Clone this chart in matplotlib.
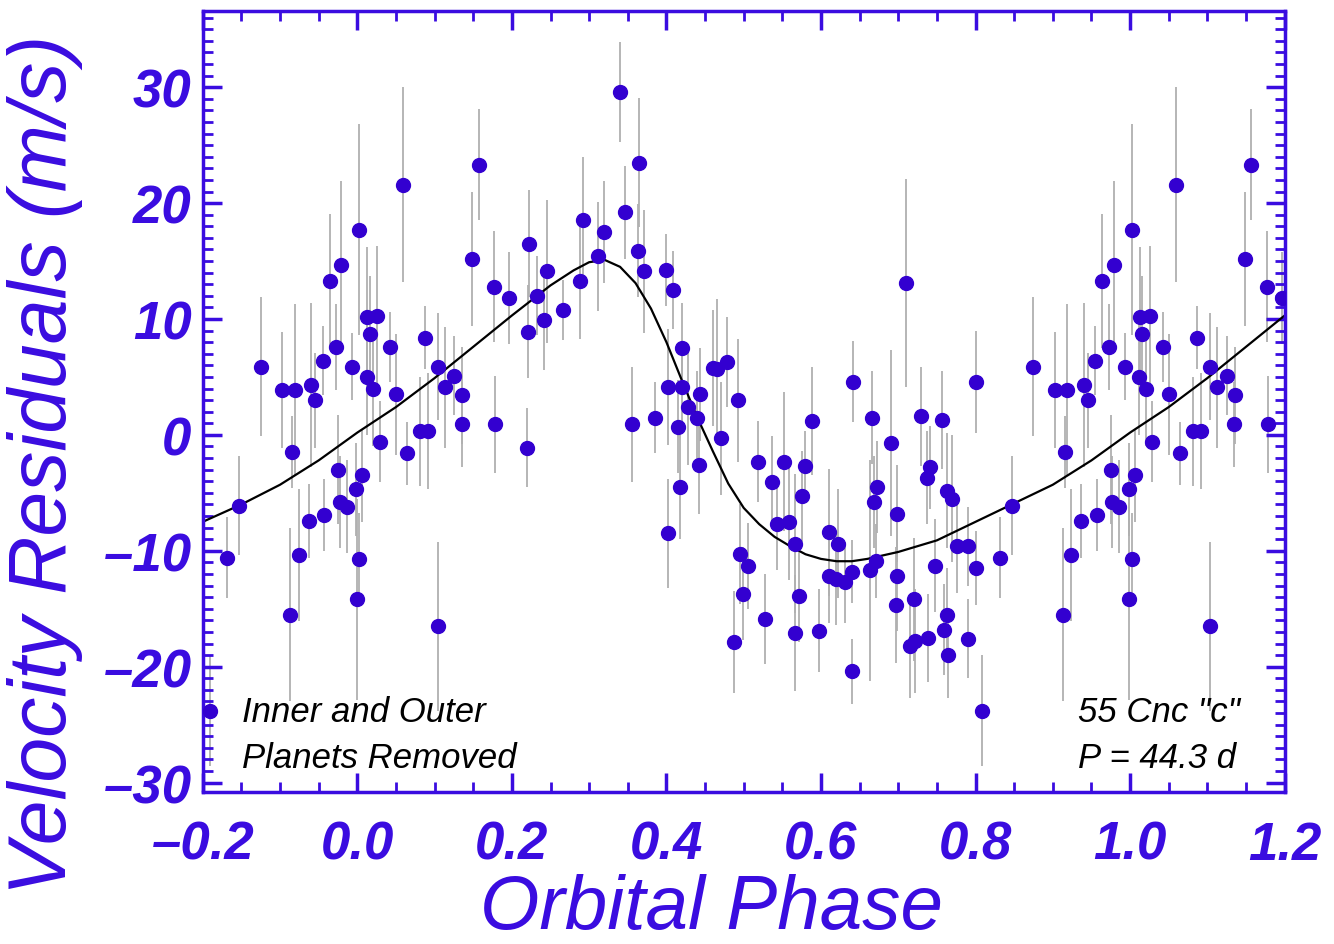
import numpy as np
import matplotlib.pyplot as plt
from matplotlib.ticker import MultipleLocator

# phase-folded residuals (phase in [-0.2, 0.8], shown again one cycle later)
phase = [-0.191, -0.168, -0.153, -0.125, -0.097, -0.081, -0.087, -0.084, -0.076, -0.060,
         -0.055, -0.063, -0.045, -0.043, -0.036, -0.027, -0.021, -0.025, -0.023, -0.014,
         -0.007, 0.002, -0.002, 0.002, -0.001, 0.006, 0.012, 0.013, 0.016, 0.020,
         0.026, 0.029, 0.042, 0.050, 0.059, 0.064, 0.081, 0.092, 0.087, 0.104,
         0.104, 0.113, 0.125, 0.136, 0.135, 0.149, 0.157, 0.177, 0.178, 0.196,
         0.219, 0.222, 0.221, 0.232, 0.242, 0.246, 0.266, 0.288, 0.292, 0.311,
         0.319, 0.340, 0.346, 0.356, 0.364, 0.363, 0.371, 0.385, 0.400, 0.408,
         0.402, 0.415, 0.420, 0.417, 0.402, 0.420, 0.428, 0.444, 0.440, 0.442,
         0.460, 0.466, 0.478, 0.470, 0.492, 0.488, 0.495, 0.499, 0.506, 0.519,
         0.528, 0.536, 0.543, 0.552, 0.558, 0.567, 0.566, 0.571, 0.575, 0.579,
         0.588, 0.597, 0.610, 0.622, 0.611, 0.620, 0.631, 0.640, 0.640, 0.642,
         0.666, 0.691, 0.672, 0.669, 0.671, 0.664, 0.699, 0.698, 0.697, 0.710,
         0.730, 0.756, 0.741, 0.737, 0.763, 0.769, 0.776, 0.790, 0.747, 0.801,
         0.720, 0.763, 0.759, 0.715, 0.722, 0.738, 0.765, 0.790, 0.800]
vel = [-23.8, -10.6, -6.1, 5.9, 3.9, 3.9, -15.5, -1.5, -10.4, 4.3,
       3.0, -7.4, 6.4, -6.9, 13.3, 7.6, 14.7, -3.0, -5.8, -6.2,
       5.9, 17.7, -4.7, -10.7, -14.2, -3.5, 5.0, 10.2, 8.7, 4.0,
       10.3, -0.6, 7.6, 3.5, 21.6, -1.6, 0.3, 0.3, 8.4, 5.9,
       -16.5, 4.1, 5.1, 3.4, 0.9, 15.2, 23.3, 12.8, 0.9, 11.8,
       -1.1, 16.5, 8.9, 12.0, 9.9, 14.1, 10.8, 13.3, 18.5, 15.4,
       17.5, 29.6, 19.2, 0.9, 23.5, 15.9, 14.1, 1.5, 14.2, 12.5,
       -8.5, 0.7, 7.5, -4.5, 4.1, 4.1, 2.4, 3.5, 1.5, -2.6,
       5.8, 5.7, 6.3, -0.3, 3.0, -17.9, -10.3, -13.7, -11.3, -2.3,
       -15.9, -4.1, -7.7, -2.3, -7.5, -9.4, -17.1, -13.9, -5.3, -2.7,
       1.2, -16.9, -8.4, -9.4, -12.2, -12.4, -12.7, -11.8, -20.4, 4.6,
       1.5, -0.7, -4.5, -5.8, -10.9, -11.7, -6.8, -12.2, -14.7, 13.1,
       1.6, 1.3, -2.8, -3.7, -4.8, -5.5, -9.6, -9.6, -11.3, -11.5,
       -14.2, -15.5, -16.8, -18.2, -17.8, -17.5, -19.0, -17.6, 4.6]
err = [4.8, 3.5, 4.3, 6.0, 5.0, 7.4, 7.5, 3.1, 5.7, 7.1,
       4.1, 3.2, 3.0, 3.1, 5.8, 3.7, 7.2, 4.7, 4.0, 4.0,
       2.9, 9.1, 4.0, 4.0, 8.7, 4.0, 5.0, 6.0, 5.0, 5.0,
       6.0, 3.5, 3.0, 5.2, 8.4, 2.7, 4.7, 5.0, 2.7, 4.6,
       7.3, 5.2, 3.4, 4.2, 3.7, 5.8, 4.8, 4.8, 4.2, 4.0,
       3.4, 4.6, 4.0, 3.4, 4.3, 6.2, 2.6, 5.0, 5.5, 4.7,
       4.4, 4.3, 4.0, 5.0, 5.6, 4.0, 5.3, 3.1, 3.1, 3.4,
       4.7, 4.0, 3.9, 4.5, 5.0, 4.0, 5.0, 4.0, 4.0, 4.2,
       5.0, 6.0, 3.9, 4.9, 5.3, 4.4, 4.3, 4.0, 3.7, 3.5,
       3.9, 4.0, 4.0, 6.0, 5.0, 6.0, 5.0, 4.0, 3.9, 3.0,
       4.7, 3.6, 5.5, 4.7, 4.0, 4.0, 3.5, 2.7, 2.8, 3.5,
       4.0, 8.0, 4.0, 4.0, 3.2, 9.5, 4.2, 4.7, 5.0, 9.0,
       4.3, 4.2, 3.6, 4.0, 5.0, 5.5, 4.0, 3.4, 4.0, 3.2,
       5.3, 4.0, 3.9, 4.5, 4.5, 3.8, 3.7, 3.4, 4.4]

# orbit fit curve
curve_phase = [-0.20, -0.15, -0.10, -0.05, 0.00, 0.05, 0.10, 0.15, 0.20, 0.25,
               0.28, 0.30, 0.32, 0.34, 0.36, 0.38, 0.40, 0.42, 0.44, 0.46,
               0.48, 0.50, 0.52, 0.54, 0.56, 0.58, 0.60, 0.62, 0.64, 0.66,
               0.70, 0.75, 0.80, 0.85, 0.90, 0.95, 1.00, 1.05, 1.10, 1.15, 1.20]
curve_vel = [-7.5, -6.0, -4.3, -2.2, 0.2, 2.4, 4.9, 7.6, 10.3, 12.9,
             14.2, 14.9, 15.1, 14.5, 13.1, 10.9, 8.0, 4.7, 1.5, -1.4,
             -4.2, -6.3, -7.7, -8.8, -9.6, -10.3, -10.7, -10.9, -10.9, -10.7,
             -10.1, -9.1, -7.5, -5.9, -4.3, -2.2, 0.2, 2.4, 4.9, 7.6, 10.3]

blue = '#3a0ce0'
dot = '#3300d0'
plt.rcParams['font.family'] = ['Liberation Sans', 'DejaVu Sans']

fig = plt.figure(figsize=(13.34, 9.45), dpi=100)
ax = fig.add_axes([0.152, 0.161, 0.811, 0.826])

ph = np.array(phase)
v = np.array(vel)
e = np.array(err)
wrap = ph + 1 <= 1.2
xs = np.concatenate([ph, ph[wrap] + 1])
ys = np.concatenate([v, v[wrap]])
es = np.concatenate([e, e[wrap]])

ax.errorbar(xs, ys, yerr=es, fmt='none', ecolor='#b0b0b0', elinewidth=1.3, zorder=1)
ax.plot(curve_phase, curve_vel, color='black', lw=1.6, zorder=2)
ax.plot(xs, ys, 'o', color=dot, ms=10, mec=dot, zorder=3)

ax.set_xlim(-0.2, 1.2)
ax.set_ylim(-30.8, 36.55)
ax.xaxis.set_major_locator(MultipleLocator(0.2))
ax.xaxis.set_minor_locator(MultipleLocator(0.05))
ax.yaxis.set_major_locator(MultipleLocator(10))
ax.yaxis.set_minor_locator(MultipleLocator(1))
ax.xaxis.set_major_formatter(lambda x, pos: f"{x:.1f}".replace('-', '\u2013'))
ax.yaxis.set_major_formatter(lambda y, pos: f"{y:.0f}".replace('-', '\u2013'))

ax.tick_params(which='both', direction='in', top=True, right=True, color=blue, labelcolor=blue)
ax.tick_params(which='major', length=14, width=2.5)
ax.tick_params(which='minor', length=7, width=2)
ax.tick_params(axis='x', pad=20)
ax.tick_params(axis='y', pad=8)
for lab in ax.get_xticklabels() + ax.get_yticklabels():
    lab.set_fontsize(38)
    lab.set_fontweight('bold')
    lab.set_fontstyle('italic')
for s in ax.spines.values():
    s.set_color(blue)
    s.set_linewidth(2.5)

fig.text(45 / 1334, 1 - 465 / 945, 'Velocity Residuals (m/s)', rotation=90, ha='center', va='center',
         color=blue, fontsize=58, style='italic')
fig.text(712 / 1334, 1 - 910 / 945, 'Orbital Phase', ha='center', va='center',
         color=blue, fontsize=55, style='italic')

fig.text(242 / 1334, 1 - 713 / 945, 'Inner and Outer', ha='left', va='center',
         fontsize=25, style='italic', color='black')
fig.text(242 / 1334, 1 - 759 / 945, 'Planets Removed', ha='left', va='center',
         fontsize=25, style='italic', color='black')
fig.text(1078 / 1334, 1 - 713 / 945, '55 Cnc "c"', ha='left', va='center',
         fontsize=25, style='italic', color='black')
fig.text(1078 / 1334, 1 - 759 / 945, 'P = 44.3 d', ha='left', va='center',
         fontsize=25, style='italic', color='black')

fig.savefig('out.png', dpi=100)
